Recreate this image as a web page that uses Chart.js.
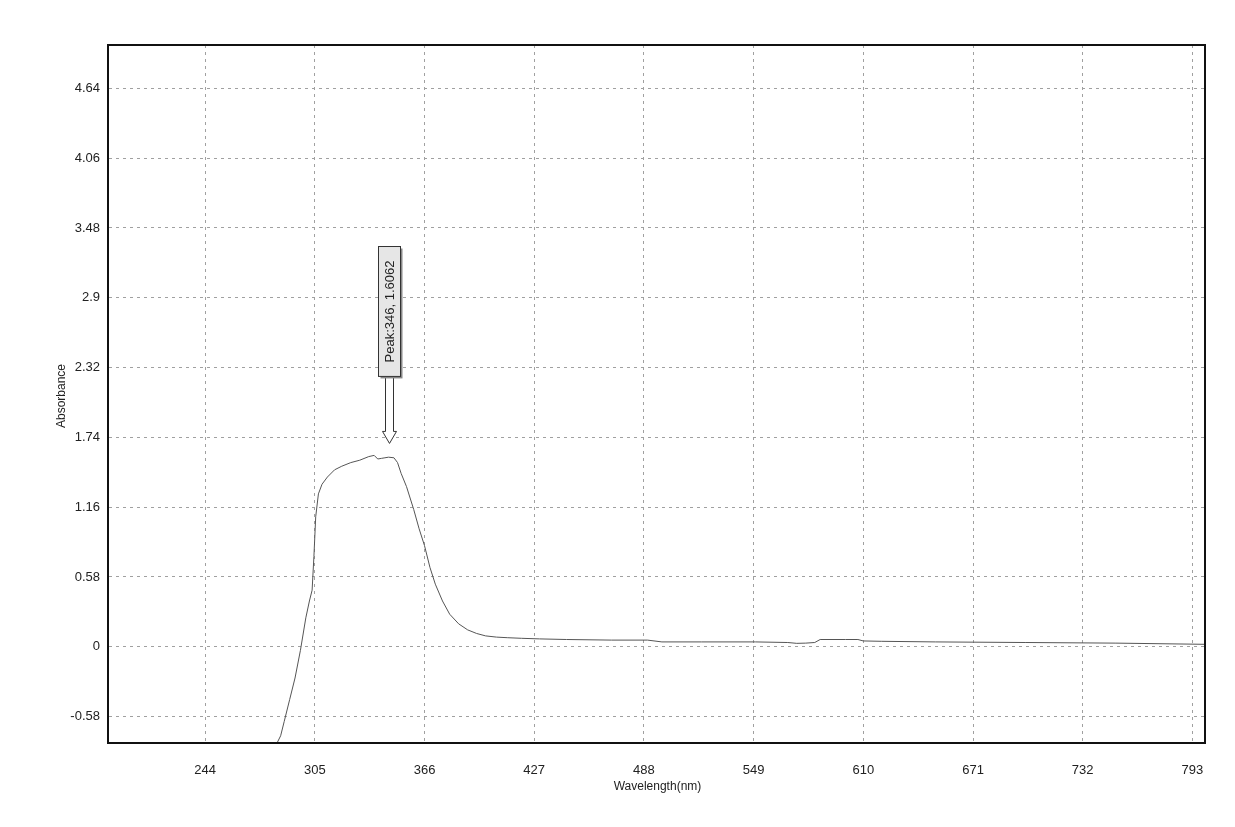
<!DOCTYPE html>
<html>
<head>
<meta charset="utf-8">
<script src="https://cdn.jsdelivr.net/npm/chart.js@4.4.1/dist/chart.umd.min.js"></script>
<style>
  html, body { margin: 0; padding: 0; background: #ffffff; }
  #wrap { width: 1235px; height: 827px; position: relative; }
</style>
</head>
<body>
<div id="wrap"><canvas id="c" width="1235" height="827"></canvas></div>
<script>
// ---- data ----
const wavelength = [284, 286, 288, 291, 294, 297, 300, 302, 303.5, 304.5, 305.5, 307, 309, 312, 316, 320, 325, 330, 335, 338, 340, 342, 344, 346, 349, 351, 353, 356, 360, 363, 366, 369, 372, 376, 380, 385, 390, 395, 400, 406, 412, 420, 430, 445, 470, 490, 498, 520, 550, 568, 573, 578, 583, 586, 600, 607, 610, 620, 650, 700, 750, 800];
const absorbance = [-0.80, -0.74, -0.62, -0.44, -0.26, -0.03, 0.24, 0.38, 0.47, 0.75, 1.08, 1.27, 1.35, 1.41, 1.47, 1.50, 1.53, 1.55, 1.58, 1.59, 1.56, 1.565, 1.57, 1.575, 1.57, 1.53, 1.44, 1.33, 1.14, 0.98, 0.84, 0.66, 0.52, 0.38, 0.27, 0.19, 0.14, 0.11, 0.09, 0.08, 0.075, 0.07, 0.065, 0.06, 0.055, 0.055, 0.04, 0.04, 0.04, 0.035, 0.028, 0.03, 0.035, 0.06, 0.06, 0.06, 0.048, 0.045, 0.04, 0.035, 0.03, 0.02];
const xTicks = [244, 305, 366, 427, 488, 549, 610, 671, 732, 793];
const yTicks = [-0.58, 0, 0.58, 1.16, 1.74, 2.32, 2.9, 3.48, 4.06, 4.64];
const xTitle = "Wavelength(nm)";
const yTitle = "Absorbance";
const peakLabel = "Peak:346, 1.6062";
const peakX = 346, peakY = 1.6062;

const points = wavelength.map((w, i) => ({ x: w, y: absorbance[i] }));

const FONT = "'Liberation Sans', Arial, sans-serif";

const framePlugin = {
  id: 'frame',
  afterDraw(chart) {
    const { ctx, chartArea: a } = chart;
    ctx.save();
    ctx.strokeStyle = '#111';
    ctx.lineWidth = 2;
    ctx.strokeRect(a.left, a.top, a.right - a.left, a.bottom - a.top);
    // axis titles
    ctx.fillStyle = '#222';
    ctx.font = '12px ' + FONT;
    ctx.textAlign = 'center';
    ctx.textBaseline = 'middle';
    ctx.fillText(xTitle, (a.left + a.right) / 2 + 1, a.bottom + 44);
    ctx.translate(a.left - 46, (a.top + a.bottom) / 2 + 2);
    ctx.rotate(-Math.PI / 2);
    ctx.fillText(yTitle, 0, 0);
    ctx.restore();
  }
};

const peakPlugin = {
  id: 'peak',
  afterDatasetsDraw(chart) {
    const { ctx } = chart;
    const px = Math.round(chart.scales.x.getPixelForValue(peakX)) + 0.5;
    const tipY = chart.scales.y.getPixelForValue(peakY) - 10;
    ctx.save();
    // arrow
    const headH = 12, headW = 7, shaftW = 4, shaftLen = 55;
    const headTop = tipY - headH;
    const shaftTop = headTop - shaftLen;
    ctx.strokeStyle = '#333';
    ctx.lineWidth = 1;
    ctx.fillStyle = '#ffffff';
    ctx.beginPath();
    ctx.moveTo(px - shaftW, shaftTop);
    ctx.lineTo(px - shaftW, headTop);
    ctx.lineTo(px - headW, headTop);
    ctx.lineTo(px, tipY);
    ctx.lineTo(px + headW, headTop);
    ctx.lineTo(px + shaftW, headTop);
    ctx.lineTo(px + shaftW, shaftTop);
    ctx.closePath();
    ctx.fill();
    ctx.stroke();
    // label box
    ctx.font = '13px ' + FONT;
    const tw = ctx.measureText(peakLabel).width;
    const boxH = tw + 28, boxW = 22;
    const bx = px - boxW / 2, by = shaftTop - boxH;
    ctx.fillStyle = '#888';
    ctx.fillRect(bx + 2, by + 2, boxW, boxH);
    ctx.fillStyle = '#e6e6e6';
    ctx.fillRect(bx, by, boxW, boxH);
    ctx.strokeStyle = '#333';
    ctx.strokeRect(bx, by, boxW, boxH);
    ctx.translate(px, by + boxH / 2);
    ctx.rotate(-Math.PI / 2);
    ctx.fillStyle = '#222';
    ctx.textAlign = 'center';
    ctx.textBaseline = 'middle';
    ctx.fillText(peakLabel, 0, 1);
    ctx.restore();
  }
};

new Chart(document.getElementById('c'), {
  type: 'line',
  data: {
    datasets: [{
      data: points,
      borderColor: '#555',
      borderWidth: 1,
      pointRadius: 0,
      tension: 0,
      fill: false
    }]
  },
  options: {
    responsive: false,
    animation: false,
    layout: { padding: { left: 0, top: 45, right: 30, bottom: 0 } },
    plugins: { legend: { display: false }, tooltip: { enabled: false } },
    scales: {
      x: {
        type: 'linear',
        min: 190, max: 800,
        afterBuildTicks(s) { s.ticks = xTicks.map(v => ({ value: v })); },
        afterFit(s) { s.height = 84; },
        grid: { color: '#a0a0a0', lineWidth: 1, drawTicks: false },
        border: { display: true, color: '#111', width: 2, dash: [3, 4] },
        ticks: { color: '#222', font: { size: 13, family: FONT }, padding: 20, maxRotation: 0, autoSkip: false,
                 callback: v => String(v) },
        title: { display: false }
      },
      y: {
        type: 'linear',
        min: -0.8, max: 5.0,
        afterBuildTicks(s) { s.ticks = yTicks.map(v => ({ value: v })); },
        afterFit(s) { s.width = 108; },
        grid: { color: '#a0a0a0', lineWidth: 1, drawTicks: false },
        border: { display: true, color: '#111', width: 2, dash: [3, 4] },
        ticks: { color: '#222', font: { size: 13, family: FONT }, padding: 8, autoSkip: false,
                 callback: v => String(v) },
        title: { display: false }
      }
    }
  },
  plugins: [framePlugin, peakPlugin]
});
</script>
</body>
</html>
